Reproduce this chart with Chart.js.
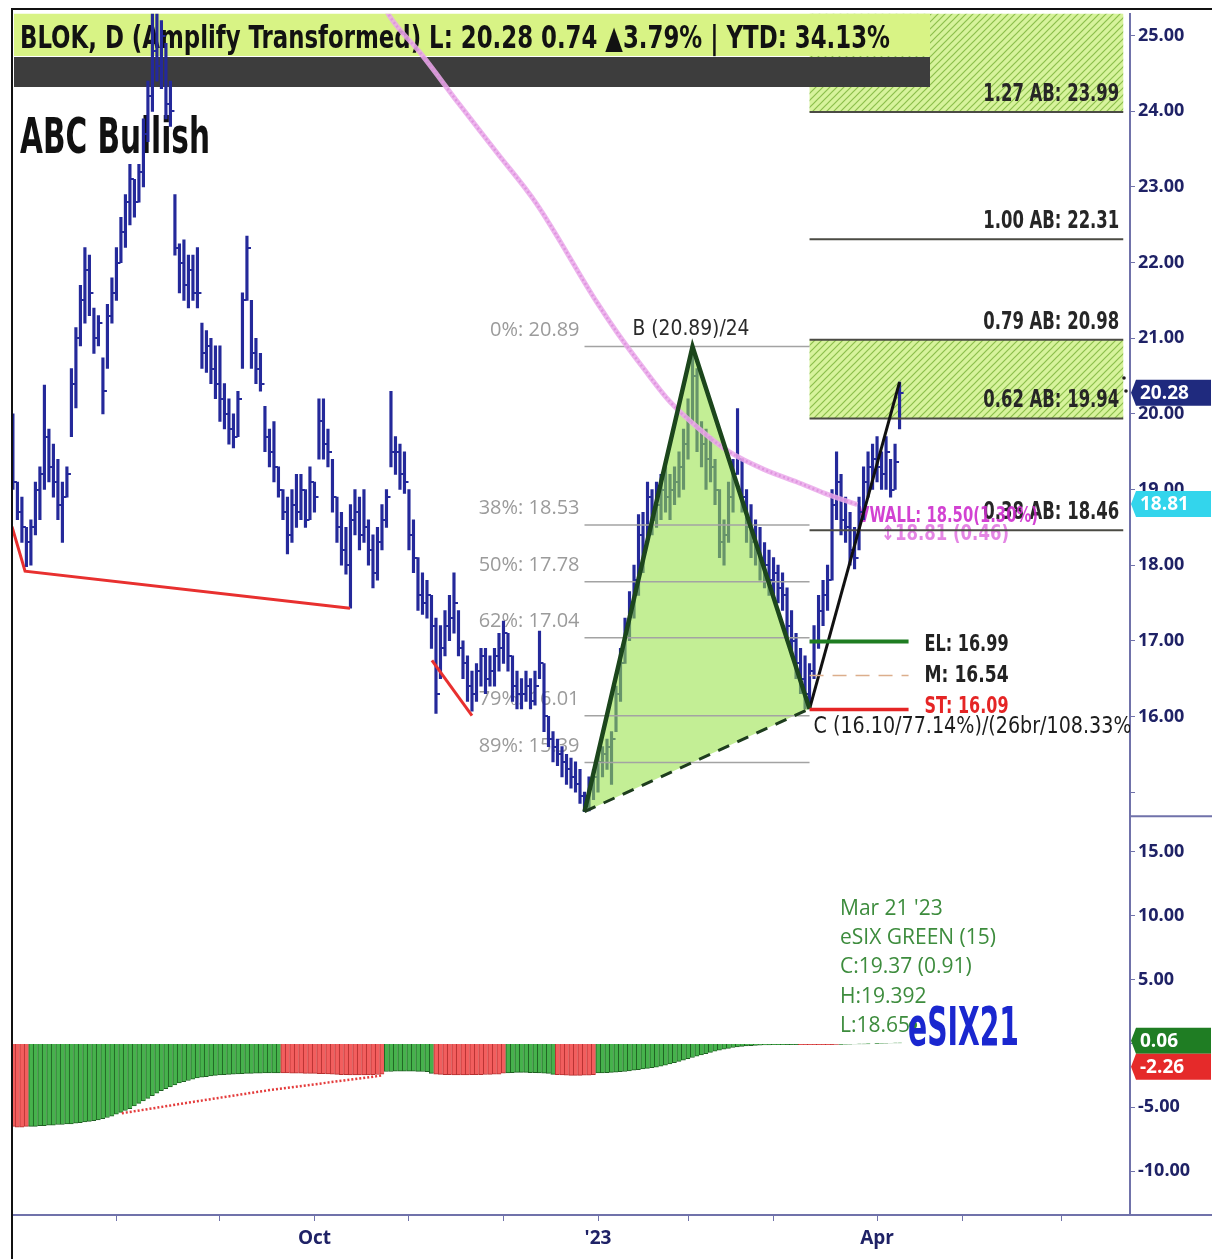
<!DOCTYPE html>
<html><head><meta charset="utf-8">
<script src="https://cdn.jsdelivr.net/npm/chart.js@4.4.0/dist/chart.umd.min.js"></script>
<style>html,body{margin:0;padding:0;background:#fff}#wrap{width:1212px;height:1259px;position:relative}</style>
</head><body><div id="wrap"><canvas id="c"></canvas></div>
<script>
// ---------- DATA ----------
const highs = [
20.0,19.1,18.9,18.5,18.6,19.1,19.3,20.38,19.8,19.6,
19.4,19.1,19.3,20.6,21.14,21.7,22.2,22.1,21.4,21.3,
20.74,21.45,21.8,22.2,22.6,22.9,23.3,23.1,23.3,23.9,
24.4,25.3,25.3,25.2,24.9,24.4,22.9,22.25,22.3,22.1,
22.1,22.2,21.2,21.1,21.0,20.9,20.9,20.4,20.2,20.0,
20.3,21.6,22.35,21.5,21.0,20.8,20.1,19.8,19.9,19.3,
19.0,18.9,19.0,19.2,19.2,19.0,19.3,19.1,20.2,20.2,
19.8,19.4,18.9,18.7,18.5,18.8,19.0,18.9,19.0,18.6,
18.4,18.5,18.8,19.0,20.3,19.7,19.6,19.5,19.0,18.6,
18.1,17.9,17.8,17.6,17.3,17.2,17.4,17.6,17.9,17.4,
17.0,16.8,16.6,16.7,16.9,16.9,16.8,16.9,17.1,17.26,
17.1,16.8,16.6,16.5,16.6,16.5,16.6,17.13,16.7,16.0,
15.8,15.7,15.6,15.5,15.45,15.4,15.3,15.0,15.2,15.3,
15.5,15.6,15.7,15.8,16.4,16.9,17.3,17.65,18.0,18.67,
18.7,19.1,19.0,19.1,19.2,19.3,19.2,19.3,19.5,19.8,
20.2,20.89,20.6,19.9,19.8,19.7,19.4,19.0,18.6,19.1,
19.4,20.07,19.4,19.0,18.8,18.6,18.5,18.3,18.2,18.1,
18.0,17.9,17.7,17.4,17.1,16.9,16.8,16.7,17.2,17.6,
17.8,18.0,19.0,19.5,19.2,18.9,18.7,18.5,18.9,19.3,
19.5,19.6,19.7,19.5,19.7,19.4,19.6,20.42];
const lows = [
19.0,18.6,18.3,17.98,18.0,18.4,18.6,19.0,19.1,18.9,
18.6,18.3,18.9,19.7,20.08,20.9,21.2,21.3,20.8,20.9,
20.0,20.6,21.2,21.5,22.0,22.2,22.5,22.6,22.8,23.0,
23.6,24.0,24.4,24.3,23.9,23.8,22.1,21.6,21.5,21.4,
21.5,21.4,20.6,20.55,20.4,20.2,19.9,19.8,19.6,19.55,
19.7,20.6,21.5,20.6,20.4,20.3,19.5,19.3,19.1,18.9,
18.6,18.15,18.3,18.5,18.6,18.5,18.6,18.7,19.4,19.4,
19.3,18.7,18.3,18.0,17.88,17.43,18.4,18.2,18.3,18.0,
17.7,17.8,18.2,18.5,19.3,19.2,19.0,18.95,18.2,17.9,
17.4,17.35,17.3,16.9,16.04,16.5,16.8,17.0,17.1,16.8,
16.5,16.2,16.07,16.2,16.4,16.3,16.4,16.4,16.6,16.7,
16.6,16.2,16.1,16.1,16.2,16.1,16.15,16.5,15.8,15.6,
15.4,15.35,15.2,15.1,15.05,15.0,14.85,14.74,14.75,14.9,
15.0,15.2,15.3,15.1,15.8,16.2,16.7,17.0,17.3,17.6,
17.9,18.3,18.4,18.5,18.6,18.7,18.6,18.8,18.9,19.0,
19.4,19.9,19.5,19.3,19.0,19.1,18.8,18.1,18.0,18.3,
18.7,19.2,18.7,18.3,18.1,18.0,17.8,17.7,17.6,17.6,
17.5,17.4,17.0,16.8,16.5,16.3,16.1,16.1,16.5,16.9,
17.2,17.4,17.8,18.6,18.4,18.3,18.0,17.95,18.2,18.6,
18.9,19.0,19.1,19.0,19.0,18.9,19.0,19.8];
const closes = [
19.1,18.7,18.5,18.3,18.5,19.0,19.2,19.7,19.3,19.1,
18.8,18.9,19.2,20.4,21.0,21.5,21.9,21.6,21.0,21.2,
20.3,21.3,21.6,22.0,22.4,22.8,23.1,22.8,23.2,23.7,
24.2,24.8,24.6,25.0,24.1,24.0,22.2,22.0,21.7,21.9,
21.6,21.6,20.8,20.9,20.6,20.4,20.2,20.0,19.8,19.7,
20.2,21.5,22.2,20.8,20.6,20.4,19.7,19.5,19.3,19.0,
18.7,18.4,18.8,18.7,19.0,18.6,19.1,18.9,19.9,19.6,
19.5,18.9,18.5,18.2,18.0,18.6,18.7,18.4,18.5,18.2,
17.9,18.3,18.6,18.9,19.5,19.5,19.2,19.1,18.4,18.1,
17.6,17.5,17.6,17.2,16.3,16.9,17.2,17.3,17.5,16.9,
16.7,16.4,16.3,16.6,16.8,16.5,16.6,16.8,16.9,17.1,
16.8,16.4,16.3,16.3,16.4,16.2,16.4,16.7,16.0,15.7,
15.6,15.5,15.4,15.3,15.2,15.1,14.95,14.9,15.1,15.2,
15.4,15.5,15.6,15.7,16.3,16.7,17.1,17.4,17.8,18.4,
18.2,18.9,18.6,18.8,19.0,18.9,19.0,19.1,19.3,19.6,
19.9,20.5,19.8,19.6,19.4,19.3,19.0,18.3,18.4,18.9,
19.2,19.4,18.9,18.5,18.3,18.2,18.0,18.0,17.8,17.9,
17.7,17.6,17.2,17.0,16.7,16.5,16.3,16.6,17.0,17.4,
17.6,17.8,18.8,19.1,18.6,18.5,18.2,18.1,18.7,19.1,
19.3,19.4,19.3,19.2,19.5,19.0,19.37,20.28];
const histValues = [
-6.5,-6.55,-6.55,-6.5,-6.5,-6.5,-6.45,-6.45,-6.4,-6.4,
-6.35,-6.35,-6.3,-6.3,-6.25,-6.2,-6.15,-6.1,-6.05,-6.0,
-5.9,-5.8,-5.7,-5.55,-5.4,-5.25,-5.1,-4.9,-4.7,-4.5,
-4.3,-4.1,-3.9,-3.7,-3.55,-3.4,-3.25,-3.1,-3.0,-2.9,
-2.8,-2.7,-2.65,-2.6,-2.55,-2.5,-2.47,-2.44,-2.42,-2.4,
-2.38,-2.36,-2.35,-2.34,-2.33,-2.32,-2.31,-2.3,-2.3,-2.3,
-2.3,-2.31,-2.32,-2.33,-2.33,-2.34,-2.35,-2.35,-2.36,-2.37,
-2.38,-2.4,-2.42,-2.44,-2.45,-2.46,-2.46,-2.47,-2.47,-2.46,
-2.45,-2.43,-2.4,-2.2,-2.2,-2.18,-2.18,-2.17,-2.17,-2.18,
-2.19,-2.2,-2.22,-2.35,-2.4,-2.42,-2.44,-2.45,-2.46,-2.46,
-2.46,-2.46,-2.45,-2.45,-2.44,-2.43,-2.42,-2.41,-2.4,-2.32,
-2.3,-2.28,-2.27,-2.27,-2.27,-2.28,-2.29,-2.3,-2.32,-2.34,
-2.42,-2.45,-2.47,-2.48,-2.5,-2.5,-2.5,-2.49,-2.48,-2.45,
-2.3,-2.3,-2.28,-2.27,-2.25,-2.22,-2.2,-2.15,-2.1,-2.05,
-2.0,-1.95,-1.9,-1.85,-1.78,-1.7,-1.6,-1.5,-1.4,-1.3,
-1.2,-1.1,-1.0,-0.9,-0.8,-0.7,-0.6,-0.52,-0.45,-0.38,
-0.32,-0.27,-0.23,-0.2,-0.17,-0.15,-0.13,-0.12,-0.11,-0.1,
-0.1,-0.1,-0.09,-0.09,-0.09,-0.1,-0.1,-0.1,-0.1,-0.1,
-0.1,-0.1,-0.09,-0.08,-0.07,-0.06,-0.05,-0.04,-0.03,-0.02,
-0.01,0.0,0.01,0.02,0.03,0.04,0.05,0.06];
// colour state runs of the eSIX histogram (r = red, g = green), in bar order
const histSegments = [['r',4],['g',56],['r',23],['g',11],['r',16],['g',11],['r',9],['g',45],['r',9],['g',14]];
const signalPoints = [{x:24.2,y:-5.47},{x:39.6,y:-4.6},{x:56.7,y:-3.67},{x:73.6,y:-2.9},{x:82.2,y:-2.5}];
const vwapPoints = [{x:81.6,y:25.49},{x:83.8,y:25.25},{x:90.7,y:24.76},{x:99.1,y:24.1},{x:107.6,y:23.45},{x:116.2,y:22.79},
  {x:129.8,y:21.47},{x:134.2,y:21.08},{x:140.4,y:20.58},{x:146,y:20.16},{x:152.7,y:19.79},{x:159.1,y:19.5},
  {x:167.1,y:19.26},{x:174.2,y:19.1},{x:180.4,y:18.95},{x:187.6,y:18.8}];
const patternA = {x:127, y:14.74}, patternB = {x:151, y:20.89}, patternC = {x:177, y:16.10}, patternD = {x:197, y:20.42};
const fibLevels = [{t:'0%: 20.89',v:20.89},{t:'38%: 18.53',v:18.53},{t:'50%: 17.78',v:17.78},{t:'62%: 17.04',v:17.04},{t:'79%: 16.01',v:16.01},{t:'89%: 15.39',v:15.39}];
const abLevels = [{t:'1.27 AB: 23.99',v:23.99},{t:'1.00 AB: 22.31',v:22.31},{t:'0.79 AB: 20.98',v:20.98},{t:'0.62 AB: 19.94',v:19.94},{t:'0.38 AB: 18.46',v:18.46}];
const abEnd = 246.7;
const hatchZones = [[19.94,20.98],[23.99,26.5]];
const tradeLevels = [{t:'EL: 16.99',v:16.99,kind:'el'},{t:'M: 16.54',v:16.54,kind:'m'},{t:'ST: 16.09',v:16.09,kind:'st'}];
const tradeEnd = 199;
const redLines = [[{x:-0.2,y:18.51},{x:2.7,y:17.92},{x:74.9,y:17.43}],[{x:93.1,y:16.74},{x:102,y:16.01}]];
const tickPositions = [23,46,67,88,109,130,150,169,192,211,233];
const tickLabels = ['','','Oct','','',"'23",'','','Apr','',''];
const vwalLast = 18.81, signalLast = -2.26;
const infoLines = ["Mar 21 '23","eSIX GREEN (15)","C:19.37 (0.91)","H:19.392","L:18.65"];

// ---------- BUILD ----------
const N = highs.length;
const histState = [];
histSegments.forEach(([s,n]) => { for (let k=0;k<n;k++) histState.push(s); });
const NAVY = '#24299a';
const COND = '"Liberation Sans Narrow","DejaVu Sans Condensed","Roboto Condensed",sans-serif';

const tickImg = document.createElement('canvas'); tickImg.width = 10; tickImg.height = 2;
(function(){ const t = tickImg.getContext('2d'); t.fillStyle = NAVY; t.fillRect(5,0,4,2); })();

const hatch = document.createElement('canvas'); hatch.width = 7; hatch.height = 7;
(function(){ const h = hatch.getContext('2d'); h.fillStyle = '#d7f39c'; h.fillRect(0,0,7,7);
  h.strokeStyle = '#8cbf4c'; h.lineWidth = 1.2; h.beginPath();
  h.moveTo(-1,8); h.lineTo(8,-1); h.moveTo(-4,4); h.lineTo(4,-4); h.moveTo(3,11); h.lineTo(11,3); h.stroke(); })();

function fitText(ctx, text, x, y, w, font, color, align) {
  ctx.save(); ctx.font = font; ctx.fillStyle = color; ctx.textBaseline = 'alphabetic'; ctx.textAlign = 'left';
  const m = ctx.measureText(text).width; const s = w ? w / m : 1;
  ctx.translate(x, y); ctx.scale(s, 1);
  ctx.fillText(text, align === 'right' ? -m : 0, 0);
  ctx.restore();
}
function lineDS(data, color, width, extra) {
  return Object.assign({type:'line', data, borderColor:color, borderWidth:width, pointRadius:0, fill:false, tension:0, order:1, yAxisID:'y'}, extra||{});
}

const datasets = [];
datasets.push({type:'bar', data: histValues.map((v,i)=>({x:i,y:v})), yAxisID:'y2', grouped:false, order:6,
  backgroundColor: histState.map(s => s==='g' ? '#46b24c' : '#f25e5e'),
  borderColor: histState.map(s => s==='g' ? '#1f5f22' : '#b53030'),
  borderWidth: {left:1, bottom:1, top:0, right:0}, borderSkipped:false, barPercentage:1, categoryPercentage:1});
datasets.push({type:'bar', data: highs.map((h,i)=>({x:i,y:[lows[i],h]})), yAxisID:'y', grouped:false, order:5,
  backgroundColor: NAVY, barThickness:2.5, borderWidth:0});
const TICK_IDX = datasets.length;
datasets.push({type:'scatter', data: closes.map((c,i)=>({x:i,y:c})), yAxisID:'y', order:4, pointStyle:tickImg, pointRadius:5, showLine:false});
fibLevels.forEach(l => datasets.push(lineDS([{x:patternA.x,y:l.v},{x:patternC.x,y:l.v}], '#a3a3a3', 1.5, {order:3})));
abLevels.forEach(l => datasets.push(lineDS([{x:patternC.x,y:l.v},{x:abEnd,y:l.v}], '#4b4b44', 2, {order:3})));
tradeLevels.forEach(l => {
  if (l.kind==='el') datasets.push(lineDS([{x:patternC.x,y:l.v},{x:tradeEnd,y:l.v}], '#1f7d22', 4));
  if (l.kind==='m') datasets.push(lineDS([{x:patternC.x,y:l.v},{x:tradeEnd,y:l.v}], '#dcae8c', 1.5, {borderDash:[14,9]}));
  if (l.kind==='st') datasets.push(lineDS([{x:patternC.x,y:l.v},{x:tradeEnd,y:l.v}], '#e52525', 3.5));
});
datasets.push(lineDS([patternA, patternC], '#1e3d1e', 3, {borderDash:[12,9]}));
datasets.push(lineDS([patternA, patternB, patternC], '#1c461c', 4.5));
datasets.push(lineDS([patternC, patternD], '#111111', 3));
redLines.forEach(r => datasets.push(lineDS(r, '#e8302f', 3)));
datasets.push(lineDS(vwapPoints, 'rgba(234,168,234,0.85)', 5, {cubicInterpolationMode:'monotone', order:2}));
datasets.push(lineDS(vwapPoints, '#a52aa5', 2.5, {borderDash:[2,2.5], cubicInterpolationMode:'monotone', order:2}));
datasets.push(lineDS(signalPoints, '#e43c3c', 2.5, {borderDash:[2,2], yAxisID:'y2'}));

const overlay = {
  id: 'overlay',
  beforeDatasetsDraw(chart) {
    const {ctx, chartArea:a} = chart; const x = chart.scales.x, y = chart.scales.y;
    ctx.save(); ctx.beginPath(); ctx.rect(a.left, a.top, a.right-a.left, a.bottom-a.top); ctx.clip();
    const pat = ctx.createPattern(hatch, 'repeat');
    hatchZones.forEach(([lo,hi]) => {
      const x0 = x.getPixelForValue(patternC.x), x1 = x.getPixelForValue(abEnd);
      const y0 = y.getPixelForValue(hi), y1 = y.getPixelForValue(lo);
      ctx.fillStyle = pat; ctx.fillRect(x0, y0, x1-x0, y1-y0);
    });
    // header
    ctx.fillStyle = '#d8f385'; ctx.fillRect(14, 12, 916, 44);
    ctx.fillStyle = '#3d3d3d'; ctx.fillRect(14, 57, 916, 30);
    fitText(ctx, 'BLOK, D (Amplify Transformed) L: 20.28 0.74 \u25B23.79% | YTD: 34.13%', 20, 48, 870, 'bold 32px '+COND, '#121212');
    fitText(ctx, 'ABC Bullish', 20, 153, 190, 'bold 50px '+COND, '#111');
    // fib labels
    const xa = x.getPixelForValue(patternA.x);
    fibLevels.forEach(l => { ctx.font = '20px "Open Sans"'; ctx.fillStyle = '#9b9b9b'; ctx.textAlign='right'; ctx.textBaseline='alphabetic';
      ctx.fillText(l.t, xa - 5, y.getPixelForValue(l.v) - 11); });
    // AB labels
    const xe = x.getPixelForValue(abEnd);
    abLevels.forEach(l => fitText(ctx, l.t, xe - 4, y.getPixelForValue(l.v) - 11, 136, 'bold 24px '+COND, '#262626', 'right'));
    // B label
    fitText(ctx, 'B (20.89)/24', x.getPixelForValue(patternB.x) - 60, y.getPixelForValue(patternB.y) - 12, 117, '22px '+COND, '#2a2a2a');
    // trade labels
    const xt = x.getPixelForValue(tradeEnd) + 16;
    const offs = {el:9, m:6, st:3}, cols = {el:'#222', m:'#222', st:'#e52525'};
    tradeLevels.forEach(l => fitText(ctx, l.t, xt, y.getPixelForValue(l.v) + offs[l.kind], 84, 'bold 23px '+COND, cols[l.kind]));
    fitText(ctx, 'C (16.10/77.14%)/(26br/108.33%', x.getPixelForValue(patternC.x) + 4, y.getPixelForValue(patternC.y) + 24, 318, '23px '+COND, '#1c1c1c');
    // VWALL labels
    fitText(ctx, 'VWALL: 18.50(1.30%)', 858, y.getPixelForValue(18.50) - 5 , 180, 'bold 22px '+COND, 'rgba(205,45,205,0.9)');
    fitText(ctx, '\u219518.81 (0.46)', 881, y.getPixelForValue(18.50) + 13, 128, 'bold 21px '+COND, 'rgba(225,120,225,0.9)');
    ctx.restore();
    // info block in indicator pane
    ctx.save();
    ctx.font = '21px "Open Sans"'; ctx.fillStyle = '#3d8c3d'; ctx.textAlign = 'left'; ctx.textBaseline = 'alphabetic';
    infoLines.forEach((t,k) => ctx.fillText(t, 840, 915 + k*29.2));
    ctx.fillStyle = '#2e8b2e'; ctx.beginPath(); ctx.arc(913, 1025, 4, 0, Math.PI*2); ctx.fill();
    fitText(ctx, 'eSIX21', 908, 1045, 111, 'bold 54px '+COND, '#1a27cf');
    ctx.restore();
  },
  afterDatasetDraw(chart, args) {
    if (args.index !== TICK_IDX) return;
    const {ctx} = chart; const x = chart.scales.x, y = chart.scales.y;
    ctx.save(); ctx.beginPath();
    [patternA, patternB, patternC].forEach((p,k) => { const px = x.getPixelForValue(p.x), py = y.getPixelForValue(p.y); k ? ctx.lineTo(px,py) : ctx.moveTo(px,py); });
    ctx.closePath(); ctx.fillStyle = 'rgba(152,226,72,0.58)'; ctx.fill(); ctx.restore();
  },
  afterDraw(chart) {
    const {ctx, chartArea:a} = chart; const y = chart.scales.y, y2 = chart.scales.y2;
    ctx.save();
    // frame
    ctx.strokeStyle = '#111'; ctx.lineWidth = 2;
    ctx.beginPath(); ctx.moveTo(12, 1259); ctx.lineTo(12, 9); ctx.lineTo(1212, 9); ctx.stroke();
    ctx.strokeStyle = '#7072aa'; ctx.lineWidth = 2;
    ctx.beginPath(); ctx.moveTo(a.right, y.bottom); ctx.lineTo(1212, y.bottom); ctx.stroke();
    ctx.beginPath(); ctx.moveTo(a.right, a.bottom); ctx.lineTo(1212, a.bottom); ctx.stroke();
    // value boxes
    function box(yc, text, bg) {
      ctx.fillStyle = bg; ctx.beginPath();
      ctx.moveTo(1131, yc); ctx.lineTo(1136, yc-13); ctx.lineTo(1211, yc-13); ctx.lineTo(1211, yc+13); ctx.lineTo(1136, yc+13); ctx.closePath(); ctx.fill();
      ctx.fillStyle = '#fff'; ctx.font = 'bold 19px "Open Sans"'; ctx.textAlign='left'; ctx.textBaseline='middle';
      ctx.fillText(text, 1140, yc+1);
    }
    box(y.getPixelForValue(closes[N-1]), closes[N-1].toFixed(2), '#1f2a7e');
    box(y.getPixelForValue(vwalLast), vwalLast.toFixed(2), '#33d5ec');
    const yh = y2.getPixelForValue(histValues[N-1]) - 2;
    box(yh, histValues[N-1].toFixed(2), '#1f7d23');
    box(Math.max(y2.getPixelForValue(signalLast) - 6, yh + 26), signalLast.toFixed(2), '#e52a2a');
    // small dots near last price
    ctx.fillStyle = '#222';
    [[1124,378],[1126,391]].forEach(([px,py]) => { ctx.beginPath(); ctx.arc(px,py,1.8,0,Math.PI*2); ctx.fill(); });
    ctx.restore();
  }
};

const axisFont = {family:'"Open Sans"', weight:'bold', size:18};
new Chart(document.getElementById('c'), {
  type: 'bar',
  data: {datasets},
  plugins: [overlay],
  options: {
    responsive: true, maintainAspectRatio: false, animation: false, events: [],
    layout: {padding: {left:12, top:10, right:0, bottom:0}},
    plugins: {legend:{display:false}, tooltip:{enabled:false}},
    scales: {
      x: {type:'linear', min:-0.2, max:248.2, offset:false, position:'bottom',
        afterBuildTicks: s => { s.ticks = tickPositions.map(v => ({value:v})); },
        afterFit: s => { s.height = 44; },
        ticks: {autoSkip:false, maxRotation:0, padding:6, color:'#1f2266', font:{family:'"Open Sans"', weight:'bold', size:19},
          callback: v => { const k = tickPositions.indexOf(v); return k >= 0 ? tickLabels[k] : ''; }},
        grid: {display:true, drawOnChartArea:false, drawTicks:true, tickLength:6, color:'#7072aa', offset:false},
        border: {display:true, color:'#7072aa', width:2}},
      y: {type:'linear', position:'right', stack:'pane', stackWeight:805, min:14.68, max:25.29,
        afterFit: s => { s.width = 82; },
        ticks: {stepSize:1, includeBounds:false, padding:3, color:'#1f2266', font:axisFont,
          callback: v => v === 15 ? '' : Number(v).toFixed(2)},
        grid: {display:true, drawOnChartArea:false, tickLength:5, color:'#7072aa'},
        border: {display:true, color:'#7072aa', width:2}},
      y2: {type:'linear', position:'right', stack:'pane', stackWeight:400, min:-13.44, max:17.8,
        afterFit: s => { s.width = 82; },
        ticks: {stepSize:5, includeBounds:false, padding:3, color:'#1f2266', font:axisFont,
          callback: v => v === 0 ? '' : Number(v).toFixed(2)},
        grid: {display:true, drawOnChartArea:false, tickLength:5, color:'#7072aa'},
        border: {display:true, color:'#7072aa', width:2}}
    }
  }
});
</script></body></html>
